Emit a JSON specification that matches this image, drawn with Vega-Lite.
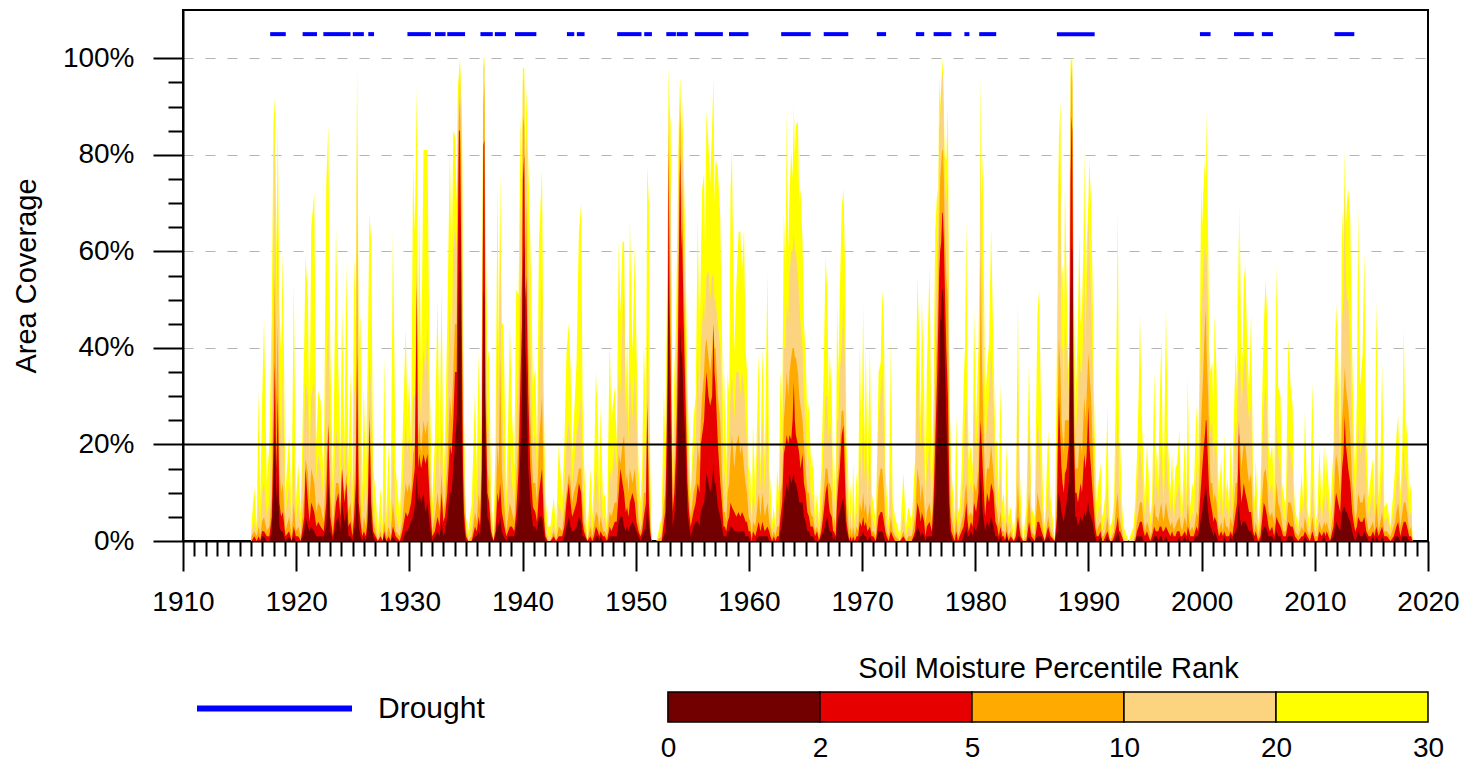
{
"$schema":"https://vega.github.io/schema/vega-lite/v6.json",
"background":"white",
"padding":{"left":11,"top":9,"right":5,"bottom":2},
"bounds":"flush",
"spacing":151,
"resolve":{"scale":{"color":"independent"}},
"config":{"view":{"stroke":null},"font":"Liberation Sans","axis":{"labelFont":"Liberation Sans","titleFont":"Liberation Sans","labelColor":"#000","titleColor":"#000"}},
"vconcat":[
{
"width":1245,"height":531,
"view":{"stroke":"#000","strokeWidth":2},
"data":{"values":[
{"t":1916.00,"a":0,"b":0,"c":0,"d":0,"e":0},
{"t":1916.07,"a":4,"b":2,"c":1,"d":0,"e":0},
{"t":1916.30,"a":11,"b":4,"c":2,"d":1,"e":0},
{"t":1916.51,"a":3,"b":2,"c":1,"d":0,"e":0},
{"t":1916.69,"a":31,"b":8,"c":3,"d":1,"e":0},
{"t":1916.83,"a":8,"b":3,"c":1,"d":0,"e":0},
{"t":1916.98,"a":28,"b":10,"c":4,"d":2,"e":1},
{"t":1917.16,"a":46,"b":12,"c":5,"d":2,"e":1},
{"t":1917.40,"a":12,"b":5,"c":2,"d":1,"e":0},
{"t":1917.63,"a":20,"b":8,"c":3,"d":1,"e":0},
{"t":1917.84,"a":47,"b":25,"c":10,"d":5,"e":2},
{"t":1917.99,"a":86,"b":60,"c":35,"d":20,"e":12},
{"t":1918.11,"a":92,"b":85,"c":55,"d":37,"e":22},
{"t":1918.25,"a":60,"b":45,"c":30,"d":15,"e":8},
{"t":1918.37,"a":87,"b":70,"c":45,"d":30,"e":15},
{"t":1918.52,"a":48,"b":30,"c":15,"d":8,"e":3},
{"t":1918.67,"a":39,"b":20,"c":10,"d":5,"e":2},
{"t":1918.82,"a":60,"b":35,"c":12,"d":6,"e":2},
{"t":1919.05,"a":10,"b":5,"c":2,"d":1,"e":0},
{"t":1919.38,"a":22,"b":12,"c":5,"d":2,"e":1},
{"t":1919.59,"a":6,"b":3,"c":1,"d":0,"e":0},
{"t":1919.79,"a":54,"b":20,"c":8,"d":3,"e":1},
{"t":1919.97,"a":8,"b":4,"c":2,"d":1,"e":0},
{"t":1920.18,"a":16,"b":8,"c":3,"d":1,"e":0},
{"t":1920.41,"a":6,"b":3,"c":1,"d":0,"e":0},
{"t":1920.71,"a":41,"b":25,"c":10,"d":5,"e":2},
{"t":1920.83,"a":59,"b":33,"c":17,"d":15,"e":5},
{"t":1921.04,"a":50,"b":30,"c":14,"d":8,"e":3},
{"t":1921.18,"a":22,"b":15,"c":8,"d":4,"e":2},
{"t":1921.33,"a":65,"b":30,"c":15,"d":8,"e":3},
{"t":1921.60,"a":72,"b":33,"c":12,"d":6,"e":2},
{"t":1921.78,"a":20,"b":12,"c":6,"d":3,"e":1},
{"t":1921.95,"a":31,"b":18,"c":8,"d":4,"e":1},
{"t":1922.16,"a":29,"b":15,"c":7,"d":3,"e":1},
{"t":1922.43,"a":12,"b":8,"c":4,"d":2,"e":1},
{"t":1922.66,"a":74,"b":35,"c":15,"d":8,"e":3},
{"t":1922.84,"a":86,"b":45,"c":25,"d":24,"e":12},
{"t":1923.02,"a":39,"b":22,"c":10,"d":5,"e":2},
{"t":1923.25,"a":12,"b":6,"c":3,"d":1,"e":0},
{"t":1923.52,"a":65,"b":23,"c":12,"d":8,"e":4},
{"t":1923.73,"a":35,"b":20,"c":12,"d":10,"e":5},
{"t":1923.91,"a":18,"b":12,"c":8,"d":5,"e":2},
{"t":1924.05,"a":49,"b":23,"c":15,"d":15,"e":8},
{"t":1924.26,"a":20,"b":14,"c":10,"d":8,"e":4},
{"t":1924.44,"a":58,"b":22,"c":14,"d":12,"e":6},
{"t":1924.62,"a":15,"b":10,"c":6,"d":3,"e":1},
{"t":1924.79,"a":35,"b":15,"c":8,"d":4,"e":1},
{"t":1924.97,"a":10,"b":6,"c":3,"d":1,"e":0},
{"t":1925.12,"a":59,"b":30,"c":10,"d":5,"e":2},
{"t":1925.27,"a":45,"b":35,"c":20,"d":12,"e":5},
{"t":1925.38,"a":99,"b":89,"c":66,"d":39,"e":14},
{"t":1925.53,"a":40,"b":30,"c":15,"d":8,"e":3},
{"t":1925.68,"a":47,"b":20,"c":8,"d":4,"e":1},
{"t":1925.83,"a":10,"b":5,"c":2,"d":1,"e":0},
{"t":1925.98,"a":32,"b":12,"c":5,"d":2,"e":1},
{"t":1926.15,"a":12,"b":6,"c":3,"d":1,"e":0},
{"t":1926.30,"a":35,"b":18,"c":8,"d":4,"e":2},
{"t":1926.48,"a":68,"b":39,"c":28,"d":25,"e":14},
{"t":1926.63,"a":62,"b":30,"c":15,"d":8,"e":4},
{"t":1926.80,"a":15,"b":8,"c":4,"d":2,"e":1},
{"t":1927.01,"a":10,"b":4,"c":2,"d":1,"e":0},
{"t":1927.22,"a":2,"b":1,"c":0,"d":0,"e":0},
{"t":1927.46,"a":11,"b":4,"c":2,"d":1,"e":0},
{"t":1927.63,"a":3,"b":1,"c":0,"d":0,"e":0},
{"t":1927.78,"a":38,"b":10,"c":4,"d":2,"e":1},
{"t":1927.96,"a":5,"b":2,"c":1,"d":0,"e":0},
{"t":1928.17,"a":20,"b":8,"c":3,"d":1,"e":0},
{"t":1928.34,"a":6,"b":3,"c":1,"d":0,"e":0},
{"t":1928.55,"a":64,"b":20,"c":8,"d":3,"e":1},
{"t":1928.79,"a":15,"b":6,"c":2,"d":1,"e":0},
{"t":1929.15,"a":5,"b":2,"c":1,"d":0,"e":0},
{"t":1929.38,"a":20,"b":10,"c":4,"d":2,"e":0},
{"t":1929.68,"a":44,"b":25,"c":12,"d":6,"e":2},
{"t":1929.83,"a":25,"b":18,"c":10,"d":5,"e":2},
{"t":1929.98,"a":34,"b":22,"c":12,"d":6,"e":3},
{"t":1930.15,"a":20,"b":15,"c":10,"d":8,"e":4},
{"t":1930.33,"a":78,"b":30,"c":18,"d":12,"e":5},
{"t":1930.48,"a":64,"b":30,"c":20,"d":15,"e":7},
{"t":1930.66,"a":94,"b":60,"c":55,"d":53,"e":14},
{"t":1930.77,"a":40,"b":28,"c":20,"d":15,"e":8},
{"t":1930.86,"a":69,"b":35,"c":25,"d":18,"e":10},
{"t":1931.04,"a":35,"b":25,"c":18,"d":15,"e":8},
{"t":1931.25,"a":81,"b":40,"c":25,"d":18,"e":10},
{"t":1931.42,"a":81,"b":35,"c":22,"d":16,"e":6},
{"t":1931.60,"a":81,"b":45,"c":25,"d":18,"e":8},
{"t":1931.81,"a":32,"b":20,"c":12,"d":8,"e":3},
{"t":1932.02,"a":8,"b":4,"c":2,"d":1,"e":0},
{"t":1932.25,"a":21,"b":10,"c":5,"d":2,"e":1},
{"t":1932.49,"a":50,"b":22,"c":10,"d":5,"e":2},
{"t":1932.67,"a":20,"b":12,"c":6,"d":3,"e":1},
{"t":1932.85,"a":53,"b":25,"c":14,"d":10,"e":4},
{"t":1933.00,"a":15,"b":10,"c":6,"d":4,"e":1},
{"t":1933.14,"a":20,"b":12,"c":8,"d":5,"e":2},
{"t":1933.35,"a":45,"b":25,"c":15,"d":10,"e":5},
{"t":1933.58,"a":81,"b":50,"c":30,"d":20,"e":10},
{"t":1933.73,"a":55,"b":40,"c":25,"d":18,"e":10},
{"t":1933.88,"a":85,"b":60,"c":35,"d":25,"e":15},
{"t":1934.03,"a":84,"b":65,"c":45,"d":35,"e":20},
{"t":1934.18,"a":70,"b":60,"c":45,"d":35,"e":25},
{"t":1934.27,"a":93,"b":85,"c":75,"d":60,"e":35},
{"t":1934.38,"a":97,"b":92,"c":88,"d":85,"e":55},
{"t":1934.47,"a":100,"b":98,"c":92,"d":85,"e":69},
{"t":1934.56,"a":95,"b":90,"c":80,"d":65,"e":45},
{"t":1934.65,"a":89,"b":80,"c":60,"d":40,"e":20},
{"t":1934.74,"a":50,"b":40,"c":25,"d":15,"e":8},
{"t":1934.83,"a":25,"b":18,"c":12,"d":6,"e":3},
{"t":1935.00,"a":5,"b":3,"c":2,"d":1,"e":0},
{"t":1935.21,"a":2,"b":1,"c":0,"d":0,"e":0},
{"t":1935.51,"a":8,"b":3,"c":1,"d":0,"e":0},
{"t":1935.80,"a":31,"b":12,"c":6,"d":3,"e":1},
{"t":1935.95,"a":15,"b":8,"c":4,"d":2,"e":1},
{"t":1936.13,"a":39,"b":18,"c":10,"d":5,"e":2},
{"t":1936.25,"a":20,"b":12,"c":6,"d":3,"e":1},
{"t":1936.40,"a":45,"b":30,"c":20,"d":15,"e":8},
{"t":1936.54,"a":100,"b":98,"c":90,"d":82,"e":52},
{"t":1936.63,"a":100,"b":99,"c":95,"d":83,"e":50},
{"t":1936.72,"a":70,"b":55,"c":40,"d":30,"e":18},
{"t":1936.90,"a":37,"b":25,"c":15,"d":10,"e":5},
{"t":1937.05,"a":40,"b":22,"c":12,"d":8,"e":4},
{"t":1937.22,"a":10,"b":6,"c":3,"d":2,"e":1},
{"t":1937.43,"a":1,"b":0,"c":0,"d":0,"e":0},
{"t":1937.61,"a":20,"b":10,"c":5,"d":2,"e":1},
{"t":1937.79,"a":74,"b":45,"c":20,"d":10,"e":4},
{"t":1937.90,"a":40,"b":30,"c":15,"d":8,"e":3},
{"t":1938.02,"a":76,"b":64,"c":38,"d":12,"e":5},
{"t":1938.17,"a":45,"b":30,"c":15,"d":6,"e":2},
{"t":1938.32,"a":45,"b":20,"c":10,"d":4,"e":1},
{"t":1938.56,"a":10,"b":5,"c":2,"d":1,"e":0},
{"t":1938.73,"a":25,"b":12,"c":5,"d":2,"e":1},
{"t":1938.88,"a":45,"b":20,"c":8,"d":3,"e":1},
{"t":1939.06,"a":27,"b":12,"c":6,"d":3,"e":1},
{"t":1939.27,"a":15,"b":8,"c":4,"d":2,"e":1},
{"t":1939.44,"a":52,"b":25,"c":12,"d":6,"e":3},
{"t":1939.65,"a":51,"b":35,"c":22,"d":15,"e":8},
{"t":1939.83,"a":88,"b":70,"c":50,"d":35,"e":20},
{"t":1939.95,"a":75,"b":65,"c":55,"d":45,"e":30},
{"t":1940.03,"a":98,"b":96,"c":88,"d":75,"e":55},
{"t":1940.15,"a":98,"b":95,"c":86,"d":80,"e":61},
{"t":1940.24,"a":80,"b":70,"c":60,"d":50,"e":40},
{"t":1940.33,"a":94,"b":85,"c":70,"d":55,"e":35},
{"t":1940.51,"a":78,"b":60,"c":40,"d":30,"e":15},
{"t":1940.69,"a":62,"b":40,"c":25,"d":15,"e":8},
{"t":1940.92,"a":32,"b":20,"c":12,"d":7,"e":3},
{"t":1941.13,"a":36,"b":22,"c":12,"d":6,"e":3},
{"t":1941.28,"a":20,"b":14,"c":8,"d":4,"e":2},
{"t":1941.45,"a":62,"b":35,"c":20,"d":10,"e":5},
{"t":1941.72,"a":77,"b":55,"c":30,"d":15,"e":5},
{"t":1941.87,"a":30,"b":20,"c":10,"d":5,"e":2},
{"t":1942.02,"a":10,"b":5,"c":2,"d":1,"e":0},
{"t":1942.22,"a":3,"b":1,"c":0,"d":0,"e":0},
{"t":1942.46,"a":3,"b":1,"c":0,"d":0,"e":0},
{"t":1942.76,"a":9,"b":4,"c":2,"d":1,"e":0},
{"t":1942.96,"a":2,"b":1,"c":0,"d":0,"e":0},
{"t":1943.20,"a":20,"b":8,"c":3,"d":1,"e":0},
{"t":1943.50,"a":9,"b":5,"c":2,"d":1,"e":0},
{"t":1943.70,"a":20,"b":12,"c":6,"d":3,"e":1},
{"t":1943.88,"a":39,"b":20,"c":10,"d":8,"e":3},
{"t":1944.09,"a":45,"b":25,"c":14,"d":12,"e":5},
{"t":1944.24,"a":36,"b":20,"c":12,"d":8,"e":3},
{"t":1944.38,"a":18,"b":12,"c":8,"d":5,"e":2},
{"t":1944.53,"a":25,"b":15,"c":10,"d":6,"e":2},
{"t":1944.77,"a":37,"b":22,"c":12,"d":8,"e":3},
{"t":1944.98,"a":64,"b":25,"c":15,"d":12,"e":5},
{"t":1945.18,"a":70,"b":30,"c":15,"d":10,"e":4},
{"t":1945.30,"a":30,"b":15,"c":8,"d":4,"e":1},
{"t":1945.42,"a":17,"b":8,"c":4,"d":2,"e":1},
{"t":1945.72,"a":0,"b":0,"c":0,"d":0,"e":0},
{"t":1946.01,"a":15,"b":6,"c":3,"d":1,"e":0},
{"t":1946.16,"a":5,"b":2,"c":1,"d":0,"e":0},
{"t":1946.31,"a":13,"b":6,"c":3,"d":1,"e":0},
{"t":1946.48,"a":35,"b":15,"c":6,"d":3,"e":1},
{"t":1946.66,"a":25,"b":12,"c":5,"d":2,"e":1},
{"t":1946.78,"a":8,"b":4,"c":2,"d":1,"e":0},
{"t":1946.89,"a":28,"b":12,"c":5,"d":2,"e":1},
{"t":1947.11,"a":8,"b":4,"c":2,"d":1,"e":0},
{"t":1947.26,"a":10,"b":5,"c":2,"d":1,"e":0},
{"t":1947.47,"a":3,"b":2,"c":1,"d":0,"e":0},
{"t":1947.70,"a":42,"b":15,"c":6,"d":3,"e":1},
{"t":1947.85,"a":25,"b":12,"c":5,"d":2,"e":1},
{"t":1948.15,"a":32,"b":20,"c":8,"d":4,"e":1},
{"t":1948.32,"a":20,"b":15,"c":8,"d":4,"e":1},
{"t":1948.50,"a":62,"b":35,"c":18,"d":10,"e":4},
{"t":1948.65,"a":47,"b":30,"c":16,"d":15,"e":5},
{"t":1948.83,"a":62,"b":45,"c":20,"d":12,"e":5},
{"t":1948.97,"a":62,"b":53,"c":22,"d":10,"e":3},
{"t":1949.12,"a":30,"b":25,"c":12,"d":6,"e":2},
{"t":1949.24,"a":43,"b":30,"c":14,"d":7,"e":3},
{"t":1949.36,"a":25,"b":20,"c":10,"d":5,"e":2},
{"t":1949.48,"a":67,"b":35,"c":15,"d":8,"e":3},
{"t":1949.71,"a":39,"b":25,"c":12,"d":10,"e":4},
{"t":1949.92,"a":61,"b":35,"c":15,"d":8,"e":3},
{"t":1950.07,"a":40,"b":25,"c":10,"d":4,"e":2},
{"t":1950.25,"a":15,"b":8,"c":4,"d":2,"e":1},
{"t":1950.42,"a":8,"b":4,"c":2,"d":1,"e":0},
{"t":1950.57,"a":15,"b":8,"c":4,"d":2,"e":1},
{"t":1950.72,"a":41,"b":20,"c":10,"d":5,"e":2},
{"t":1950.90,"a":25,"b":15,"c":10,"d":8,"e":3},
{"t":1951.02,"a":78,"b":45,"c":30,"d":28,"e":8},
{"t":1951.16,"a":70,"b":30,"c":15,"d":8,"e":3},
{"t":1951.28,"a":15,"b":8,"c":4,"d":2,"e":1},
{"t":1951.40,"a":0,"b":0,"c":0,"d":0,"e":0},
{"t":1951.84,"a":0,"b":0,"c":0,"d":0,"e":0},
{"t":1952.29,"a":5,"b":2,"c":1,"d":0,"e":0},
{"t":1952.49,"a":31,"b":15,"c":8,"d":4,"e":1},
{"t":1952.61,"a":20,"b":15,"c":10,"d":6,"e":2},
{"t":1952.73,"a":45,"b":30,"c":25,"d":20,"e":10},
{"t":1952.82,"a":70,"b":55,"c":45,"d":35,"e":20},
{"t":1952.91,"a":98,"b":90,"c":85,"d":81,"e":57},
{"t":1952.99,"a":90,"b":80,"c":65,"d":50,"e":30},
{"t":1953.09,"a":86,"b":70,"c":50,"d":35,"e":22},
{"t":1953.26,"a":15,"b":12,"c":8,"d":6,"e":3},
{"t":1953.41,"a":35,"b":25,"c":15,"d":10,"e":5},
{"t":1953.56,"a":45,"b":35,"c":25,"d":18,"e":10},
{"t":1953.68,"a":65,"b":55,"c":40,"d":30,"e":20},
{"t":1953.80,"a":86,"b":80,"c":65,"d":55,"e":35},
{"t":1953.89,"a":94,"b":90,"c":85,"d":75,"e":44},
{"t":1953.94,"a":96,"b":92,"c":89,"d":80,"e":44},
{"t":1954.03,"a":85,"b":80,"c":70,"d":60,"e":38},
{"t":1954.09,"a":92,"b":85,"c":75,"d":65,"e":40},
{"t":1954.24,"a":78,"b":70,"c":55,"d":45,"e":28},
{"t":1954.39,"a":61,"b":50,"c":40,"d":30,"e":20},
{"t":1954.57,"a":33,"b":25,"c":18,"d":12,"e":6},
{"t":1954.71,"a":20,"b":15,"c":10,"d":6,"e":3},
{"t":1954.86,"a":10,"b":8,"c":5,"d":3,"e":1},
{"t":1955.10,"a":25,"b":18,"c":10,"d":6,"e":3},
{"t":1955.30,"a":30,"b":20,"c":12,"d":8,"e":4},
{"t":1955.48,"a":67,"b":40,"c":20,"d":12,"e":4},
{"t":1955.63,"a":40,"b":28,"c":16,"d":10,"e":3},
{"t":1955.75,"a":57,"b":40,"c":25,"d":20,"e":6},
{"t":1955.87,"a":73,"b":45,"c":30,"d":22,"e":7},
{"t":1956.04,"a":76,"b":50,"c":35,"d":25,"e":8},
{"t":1956.13,"a":60,"b":45,"c":40,"d":30,"e":10},
{"t":1956.25,"a":89,"b":55,"c":42,"d":35,"e":14},
{"t":1956.43,"a":82,"b":56,"c":38,"d":30,"e":12},
{"t":1956.58,"a":74,"b":50,"c":35,"d":28,"e":10},
{"t":1956.75,"a":86,"b":55,"c":40,"d":30,"e":12},
{"t":1956.87,"a":96,"b":55,"c":45,"d":45,"e":16},
{"t":1956.96,"a":70,"b":50,"c":40,"d":35,"e":12},
{"t":1957.05,"a":79,"b":50,"c":40,"d":32,"e":12},
{"t":1957.26,"a":77,"b":45,"c":30,"d":20,"e":7},
{"t":1957.47,"a":67,"b":40,"c":25,"d":12,"e":5},
{"t":1957.61,"a":45,"b":30,"c":15,"d":8,"e":3},
{"t":1957.76,"a":20,"b":12,"c":6,"d":3,"e":1},
{"t":1957.88,"a":35,"b":15,"c":6,"d":3,"e":1},
{"t":1958.00,"a":15,"b":8,"c":4,"d":2,"e":1},
{"t":1958.12,"a":35,"b":20,"c":10,"d":4,"e":2},
{"t":1958.26,"a":30,"b":20,"c":12,"d":5,"e":2},
{"t":1958.38,"a":73,"b":30,"c":18,"d":8,"e":3},
{"t":1958.50,"a":81,"b":35,"c":22,"d":7,"e":3},
{"t":1958.71,"a":39,"b":25,"c":15,"d":6,"e":2},
{"t":1958.89,"a":53,"b":35,"c":20,"d":5,"e":2},
{"t":1959.09,"a":64,"b":35,"c":22,"d":6,"e":2},
{"t":1959.24,"a":64,"b":30,"c":18,"d":5,"e":2},
{"t":1959.39,"a":56,"b":35,"c":20,"d":6,"e":2},
{"t":1959.57,"a":65,"b":32,"c":15,"d":5,"e":2},
{"t":1959.71,"a":40,"b":25,"c":12,"d":4,"e":1},
{"t":1959.83,"a":35,"b":20,"c":10,"d":4,"e":1},
{"t":1959.98,"a":15,"b":10,"c":5,"d":2,"e":1},
{"t":1960.13,"a":14,"b":8,"c":4,"d":2,"e":0},
{"t":1960.25,"a":5,"b":3,"c":1,"d":0,"e":0},
{"t":1960.36,"a":24,"b":10,"c":4,"d":2,"e":0},
{"t":1960.57,"a":10,"b":6,"c":3,"d":1,"e":0},
{"t":1960.87,"a":39,"b":25,"c":10,"d":4,"e":1},
{"t":1961.02,"a":15,"b":10,"c":5,"d":2,"e":1},
{"t":1961.19,"a":40,"b":25,"c":10,"d":4,"e":1},
{"t":1961.40,"a":17,"b":10,"c":5,"d":2,"e":1},
{"t":1961.64,"a":56,"b":28,"c":8,"d":3,"e":1},
{"t":1961.79,"a":15,"b":8,"c":4,"d":2,"e":0},
{"t":1961.90,"a":12,"b":6,"c":3,"d":1,"e":0},
{"t":1962.05,"a":4,"b":2,"c":1,"d":0,"e":0},
{"t":1962.20,"a":7,"b":4,"c":2,"d":1,"e":0},
{"t":1962.35,"a":3,"b":2,"c":1,"d":0,"e":0},
{"t":1962.49,"a":15,"b":8,"c":3,"d":1,"e":0},
{"t":1962.64,"a":10,"b":6,"c":3,"d":1,"e":0},
{"t":1962.79,"a":35,"b":20,"c":10,"d":5,"e":2},
{"t":1962.94,"a":25,"b":18,"c":12,"d":8,"e":4},
{"t":1963.09,"a":68,"b":40,"c":25,"d":18,"e":8},
{"t":1963.23,"a":55,"b":40,"c":30,"d":20,"e":10},
{"t":1963.35,"a":89,"b":50,"c":35,"d":22,"e":12},
{"t":1963.47,"a":60,"b":45,"c":30,"d":20,"e":10},
{"t":1963.59,"a":72,"b":55,"c":35,"d":22,"e":14},
{"t":1963.74,"a":81,"b":60,"c":38,"d":21,"e":12},
{"t":1963.86,"a":75,"b":60,"c":40,"d":25,"e":13},
{"t":1963.97,"a":90,"b":64,"c":40,"d":33,"e":14},
{"t":1964.06,"a":80,"b":60,"c":38,"d":25,"e":12},
{"t":1964.15,"a":86,"b":60,"c":38,"d":22,"e":12},
{"t":1964.33,"a":87,"b":55,"c":35,"d":20,"e":10},
{"t":1964.45,"a":70,"b":50,"c":30,"d":18,"e":8},
{"t":1964.56,"a":73,"b":45,"c":28,"d":15,"e":8},
{"t":1964.74,"a":62,"b":40,"c":25,"d":18,"e":8},
{"t":1964.86,"a":45,"b":30,"c":20,"d":12,"e":5},
{"t":1965.01,"a":39,"b":25,"c":15,"d":10,"e":4},
{"t":1965.16,"a":25,"b":15,"c":10,"d":6,"e":2},
{"t":1965.31,"a":29,"b":18,"c":10,"d":5,"e":2},
{"t":1965.45,"a":18,"b":10,"c":6,"d":3,"e":1},
{"t":1965.60,"a":15,"b":8,"c":5,"d":3,"e":1},
{"t":1965.66,"a":18,"b":10,"c":5,"d":3,"e":1},
{"t":1965.84,"a":5,"b":3,"c":2,"d":1,"e":0},
{"t":1966.02,"a":10,"b":6,"c":3,"d":2,"e":0},
{"t":1966.19,"a":4,"b":2,"c":1,"d":0,"e":0},
{"t":1966.40,"a":15,"b":8,"c":4,"d":2,"e":1},
{"t":1966.61,"a":36,"b":20,"c":10,"d":6,"e":2},
{"t":1966.78,"a":59,"b":30,"c":15,"d":10,"e":4},
{"t":1966.93,"a":51,"b":30,"c":15,"d":12,"e":5},
{"t":1967.05,"a":30,"b":20,"c":12,"d":8,"e":3},
{"t":1967.14,"a":39,"b":25,"c":12,"d":6,"e":2},
{"t":1967.32,"a":30,"b":20,"c":10,"d":5,"e":2},
{"t":1967.44,"a":10,"b":6,"c":3,"d":2,"e":0},
{"t":1967.52,"a":17,"b":10,"c":5,"d":2,"e":1},
{"t":1967.67,"a":8,"b":5,"c":3,"d":1,"e":0},
{"t":1967.79,"a":49,"b":25,"c":12,"d":8,"e":3},
{"t":1967.91,"a":35,"b":25,"c":15,"d":12,"e":5},
{"t":1968.03,"a":51,"b":35,"c":20,"d":15,"e":6},
{"t":1968.20,"a":69,"b":40,"c":27,"d":22,"e":8},
{"t":1968.35,"a":73,"b":50,"c":27,"d":24,"e":9},
{"t":1968.50,"a":57,"b":35,"c":20,"d":12,"e":5},
{"t":1968.62,"a":20,"b":14,"c":8,"d":4,"e":2},
{"t":1968.74,"a":17,"b":10,"c":5,"d":2,"e":1},
{"t":1968.86,"a":5,"b":3,"c":1,"d":0,"e":0},
{"t":1968.97,"a":12,"b":6,"c":3,"d":1,"e":0},
{"t":1969.09,"a":3,"b":2,"c":1,"d":0,"e":0},
{"t":1969.21,"a":16,"b":8,"c":3,"d":1,"e":0},
{"t":1969.36,"a":4,"b":2,"c":1,"d":0,"e":0},
{"t":1969.51,"a":14,"b":6,"c":3,"d":1,"e":0},
{"t":1969.65,"a":8,"b":4,"c":2,"d":1,"e":0},
{"t":1969.80,"a":41,"b":20,"c":8,"d":4,"e":1},
{"t":1969.95,"a":20,"b":12,"c":6,"d":3,"e":1},
{"t":1970.10,"a":49,"b":25,"c":10,"d":5,"e":2},
{"t":1970.22,"a":20,"b":12,"c":6,"d":3,"e":1},
{"t":1970.33,"a":40,"b":22,"c":8,"d":4,"e":1},
{"t":1970.48,"a":15,"b":8,"c":4,"d":2,"e":0},
{"t":1970.69,"a":40,"b":20,"c":8,"d":3,"e":1},
{"t":1970.84,"a":10,"b":5,"c":2,"d":1,"e":0},
{"t":1970.99,"a":8,"b":4,"c":2,"d":1,"e":0},
{"t":1971.22,"a":4,"b":2,"c":1,"d":0,"e":0},
{"t":1971.46,"a":35,"b":25,"c":12,"d":5,"e":2},
{"t":1971.64,"a":37,"b":30,"c":15,"d":6,"e":2},
{"t":1971.78,"a":52,"b":35,"c":15,"d":6,"e":2},
{"t":1971.93,"a":45,"b":25,"c":10,"d":4,"e":1},
{"t":1972.05,"a":15,"b":8,"c":4,"d":2,"e":0},
{"t":1972.17,"a":10,"b":5,"c":2,"d":1,"e":0},
{"t":1972.35,"a":4,"b":2,"c":1,"d":0,"e":0},
{"t":1972.55,"a":42,"b":15,"c":5,"d":2,"e":0},
{"t":1972.70,"a":8,"b":4,"c":2,"d":1,"e":0},
{"t":1972.91,"a":5,"b":2,"c":1,"d":0,"e":0},
{"t":1973.35,"a":1,"b":0,"c":0,"d":0,"e":0},
{"t":1973.65,"a":14,"b":6,"c":2,"d":1,"e":0},
{"t":1973.88,"a":3,"b":1,"c":0,"d":0,"e":0},
{"t":1974.09,"a":7,"b":3,"c":1,"d":0,"e":0},
{"t":1974.39,"a":4,"b":2,"c":1,"d":0,"e":0},
{"t":1974.68,"a":17,"b":10,"c":5,"d":2,"e":1},
{"t":1974.89,"a":55,"b":39,"c":15,"d":8,"e":3},
{"t":1975.07,"a":39,"b":25,"c":12,"d":6,"e":2},
{"t":1975.19,"a":25,"b":18,"c":8,"d":4,"e":1},
{"t":1975.28,"a":50,"b":30,"c":12,"d":6,"e":2},
{"t":1975.48,"a":31,"b":18,"c":8,"d":4,"e":1},
{"t":1975.60,"a":10,"b":6,"c":3,"d":1,"e":0},
{"t":1975.72,"a":35,"b":15,"c":6,"d":3,"e":1},
{"t":1975.96,"a":57,"b":20,"c":8,"d":4,"e":1},
{"t":1976.16,"a":14,"b":8,"c":4,"d":2,"e":1},
{"t":1976.31,"a":30,"b":20,"c":12,"d":8,"e":4},
{"t":1976.46,"a":64,"b":45,"c":30,"d":20,"e":12},
{"t":1976.64,"a":73,"b":60,"c":45,"d":35,"e":25},
{"t":1976.73,"a":70,"b":65,"c":55,"d":45,"e":30},
{"t":1976.81,"a":96,"b":85,"c":65,"d":55,"e":38},
{"t":1976.90,"a":90,"b":88,"c":75,"d":60,"e":45},
{"t":1976.99,"a":95,"b":93,"c":78,"d":62,"e":48},
{"t":1977.08,"a":98,"b":96,"c":81,"d":68,"e":52},
{"t":1977.14,"a":100,"b":97,"c":81,"d":68,"e":52},
{"t":1977.23,"a":90,"b":85,"c":75,"d":62,"e":48},
{"t":1977.29,"a":80,"b":75,"c":65,"d":55,"e":40},
{"t":1977.44,"a":79,"b":70,"c":55,"d":40,"e":25},
{"t":1977.58,"a":90,"b":75,"c":50,"d":30,"e":15},
{"t":1977.73,"a":30,"b":25,"c":15,"d":8,"e":3},
{"t":1977.88,"a":15,"b":10,"c":5,"d":2,"e":1},
{"t":1978.03,"a":10,"b":6,"c":3,"d":1,"e":0},
{"t":1978.17,"a":5,"b":3,"c":1,"d":0,"e":0},
{"t":1978.32,"a":26,"b":12,"c":5,"d":2,"e":0},
{"t":1978.47,"a":6,"b":3,"c":1,"d":0,"e":0},
{"t":1978.62,"a":7,"b":4,"c":2,"d":1,"e":0},
{"t":1978.80,"a":15,"b":8,"c":4,"d":2,"e":0},
{"t":1978.97,"a":32,"b":15,"c":6,"d":3,"e":1},
{"t":1979.09,"a":40,"b":25,"c":10,"d":5,"e":2},
{"t":1979.21,"a":66,"b":30,"c":12,"d":8,"e":3},
{"t":1979.33,"a":30,"b":18,"c":8,"d":4,"e":1},
{"t":1979.42,"a":17,"b":10,"c":5,"d":2,"e":1},
{"t":1979.62,"a":20,"b":12,"c":6,"d":4,"e":2},
{"t":1979.77,"a":15,"b":10,"c":5,"d":3,"e":1},
{"t":1979.89,"a":48,"b":30,"c":12,"d":8,"e":3},
{"t":1980.07,"a":25,"b":18,"c":10,"d":6,"e":2},
{"t":1980.28,"a":40,"b":25,"c":15,"d":10,"e":4},
{"t":1980.39,"a":60,"b":45,"c":30,"d":20,"e":8},
{"t":1980.48,"a":96,"b":81,"c":59,"d":25,"e":14},
{"t":1980.57,"a":70,"b":60,"c":40,"d":20,"e":10},
{"t":1980.66,"a":81,"b":45,"c":30,"d":15,"e":6},
{"t":1980.87,"a":28,"b":18,"c":10,"d":5,"e":2},
{"t":1981.04,"a":36,"b":25,"c":15,"d":10,"e":4},
{"t":1981.22,"a":41,"b":30,"c":15,"d":8,"e":3},
{"t":1981.40,"a":65,"b":40,"c":20,"d":12,"e":5},
{"t":1981.61,"a":39,"b":28,"c":14,"d":10,"e":3},
{"t":1981.78,"a":20,"b":14,"c":8,"d":4,"e":1},
{"t":1981.93,"a":21,"b":12,"c":6,"d":3,"e":1},
{"t":1982.08,"a":10,"b":6,"c":3,"d":1,"e":0},
{"t":1982.23,"a":33,"b":15,"c":6,"d":3,"e":1},
{"t":1982.38,"a":8,"b":4,"c":2,"d":1,"e":0},
{"t":1982.52,"a":10,"b":5,"c":2,"d":1,"e":0},
{"t":1982.64,"a":4,"b":2,"c":1,"d":0,"e":0},
{"t":1982.76,"a":20,"b":10,"c":4,"d":2,"e":1},
{"t":1982.94,"a":5,"b":3,"c":1,"d":0,"e":0},
{"t":1983.12,"a":7,"b":4,"c":2,"d":1,"e":0},
{"t":1983.41,"a":1,"b":0,"c":0,"d":0,"e":0},
{"t":1983.59,"a":8,"b":4,"c":2,"d":1,"e":0},
{"t":1983.77,"a":49,"b":35,"c":12,"d":5,"e":1},
{"t":1983.88,"a":20,"b":12,"c":6,"d":3,"e":1},
{"t":1984.00,"a":10,"b":5,"c":2,"d":1,"e":0},
{"t":1984.22,"a":0,"b":0,"c":0,"d":0,"e":0},
{"t":1984.52,"a":7,"b":3,"c":1,"d":0,"e":0},
{"t":1984.75,"a":37,"b":26,"c":10,"d":4,"e":1},
{"t":1984.96,"a":7,"b":4,"c":2,"d":1,"e":0},
{"t":1985.26,"a":5,"b":2,"c":1,"d":0,"e":0},
{"t":1985.49,"a":47,"b":25,"c":10,"d":4,"e":1},
{"t":1985.64,"a":52,"b":22,"c":8,"d":4,"e":1},
{"t":1985.85,"a":22,"b":10,"c":5,"d":2,"e":1},
{"t":1986.00,"a":8,"b":4,"c":2,"d":1,"e":0},
{"t":1986.14,"a":3,"b":1,"c":0,"d":0,"e":0},
{"t":1986.44,"a":23,"b":12,"c":5,"d":3,"e":1},
{"t":1986.65,"a":9,"b":5,"c":2,"d":1,"e":0},
{"t":1987.03,"a":0,"b":0,"c":0,"d":0,"e":0},
{"t":1987.21,"a":40,"b":20,"c":10,"d":5,"e":2},
{"t":1987.30,"a":65,"b":45,"c":30,"d":20,"e":8},
{"t":1987.39,"a":83,"b":80,"c":42,"d":30,"e":10},
{"t":1987.53,"a":91,"b":70,"c":35,"d":20,"e":8},
{"t":1987.62,"a":55,"b":40,"c":25,"d":15,"e":6},
{"t":1987.71,"a":57,"b":40,"c":22,"d":12,"e":5},
{"t":1987.83,"a":40,"b":30,"c":18,"d":10,"e":4},
{"t":1987.92,"a":73,"b":45,"c":25,"d":14,"e":6},
{"t":1988.07,"a":54,"b":40,"c":25,"d":15,"e":8},
{"t":1988.18,"a":40,"b":35,"c":25,"d":18,"e":10},
{"t":1988.27,"a":35,"b":30,"c":25,"d":20,"e":12},
{"t":1988.36,"a":80,"b":75,"c":60,"d":45,"e":25},
{"t":1988.42,"a":99,"b":95,"c":85,"d":75,"e":50},
{"t":1988.51,"a":100,"b":99,"c":98,"d":88,"e":61},
{"t":1988.57,"a":100,"b":98,"c":95,"d":85,"e":60},
{"t":1988.66,"a":75,"b":65,"c":50,"d":40,"e":25},
{"t":1988.72,"a":51,"b":40,"c":30,"d":22,"e":15},
{"t":1988.84,"a":30,"b":22,"c":15,"d":10,"e":5},
{"t":1988.95,"a":35,"b":25,"c":15,"d":10,"e":5},
{"t":1989.07,"a":45,"b":30,"c":15,"d":8,"e":3},
{"t":1989.19,"a":64,"b":40,"c":20,"d":10,"e":4},
{"t":1989.31,"a":45,"b":35,"c":20,"d":12,"e":5},
{"t":1989.43,"a":49,"b":35,"c":18,"d":10,"e":4},
{"t":1989.55,"a":60,"b":45,"c":25,"d":15,"e":5},
{"t":1989.63,"a":81,"b":55,"c":30,"d":18,"e":6},
{"t":1989.75,"a":50,"b":40,"c":25,"d":15,"e":5},
{"t":1989.84,"a":61,"b":50,"c":30,"d":18,"e":6},
{"t":1989.99,"a":70,"b":67,"c":39,"d":28,"e":8},
{"t":1990.08,"a":79,"b":60,"c":35,"d":20,"e":6},
{"t":1990.23,"a":70,"b":50,"c":30,"d":15,"e":5},
{"t":1990.37,"a":53,"b":35,"c":20,"d":10,"e":4},
{"t":1990.49,"a":30,"b":20,"c":12,"d":6,"e":2},
{"t":1990.58,"a":20,"b":12,"c":6,"d":3,"e":1},
{"t":1990.73,"a":8,"b":4,"c":2,"d":1,"e":0},
{"t":1990.88,"a":12,"b":6,"c":3,"d":1,"e":0},
{"t":1991.08,"a":16,"b":8,"c":4,"d":2,"e":1},
{"t":1991.20,"a":5,"b":2,"c":1,"d":0,"e":0},
{"t":1991.32,"a":6,"b":3,"c":1,"d":0,"e":0},
{"t":1991.50,"a":10,"b":5,"c":2,"d":1,"e":0},
{"t":1991.68,"a":28,"b":12,"c":5,"d":2,"e":1},
{"t":1991.79,"a":8,"b":4,"c":2,"d":1,"e":0},
{"t":1991.91,"a":3,"b":1,"c":0,"d":0,"e":0},
{"t":1992.09,"a":4,"b":2,"c":1,"d":0,"e":0},
{"t":1992.27,"a":9,"b":5,"c":2,"d":1,"e":0},
{"t":1992.47,"a":39,"b":20,"c":8,"d":3,"e":1},
{"t":1992.59,"a":69,"b":28,"c":10,"d":5,"e":2},
{"t":1992.71,"a":20,"b":12,"c":5,"d":2,"e":1},
{"t":1992.80,"a":21,"b":10,"c":4,"d":2,"e":0},
{"t":1992.95,"a":8,"b":4,"c":2,"d":1,"e":0},
{"t":1993.10,"a":3,"b":1,"c":0,"d":0,"e":0},
{"t":1993.54,"a":0,"b":0,"c":0,"d":0,"e":0},
{"t":1993.98,"a":3,"b":1,"c":0,"d":0,"e":0},
{"t":1994.13,"a":8,"b":4,"c":1,"d":0,"e":0},
{"t":1994.28,"a":17,"b":10,"c":4,"d":2,"e":1},
{"t":1994.43,"a":30,"b":15,"c":6,"d":3,"e":1},
{"t":1994.55,"a":47,"b":20,"c":8,"d":4,"e":1},
{"t":1994.72,"a":25,"b":15,"c":8,"d":4,"e":1},
{"t":1994.87,"a":15,"b":8,"c":4,"d":2,"e":0},
{"t":1994.99,"a":9,"b":5,"c":2,"d":1,"e":0},
{"t":1995.17,"a":20,"b":10,"c":4,"d":2,"e":0},
{"t":1995.31,"a":14,"b":8,"c":3,"d":1,"e":0},
{"t":1995.46,"a":5,"b":3,"c":1,"d":0,"e":0},
{"t":1995.61,"a":8,"b":4,"c":2,"d":1,"e":0},
{"t":1995.82,"a":35,"b":18,"c":8,"d":3,"e":1},
{"t":1995.94,"a":15,"b":10,"c":5,"d":2,"e":1},
{"t":1996.05,"a":19,"b":12,"c":5,"d":2,"e":1},
{"t":1996.17,"a":12,"b":8,"c":4,"d":2,"e":0},
{"t":1996.29,"a":28,"b":15,"c":6,"d":3,"e":1},
{"t":1996.44,"a":42,"b":20,"c":8,"d":3,"e":1},
{"t":1996.56,"a":20,"b":12,"c":5,"d":2,"e":0},
{"t":1996.65,"a":12,"b":8,"c":4,"d":2,"e":0},
{"t":1996.85,"a":48,"b":20,"c":8,"d":3,"e":1},
{"t":1997.03,"a":20,"b":12,"c":5,"d":2,"e":0},
{"t":1997.24,"a":10,"b":6,"c":3,"d":1,"e":0},
{"t":1997.39,"a":18,"b":10,"c":4,"d":2,"e":0},
{"t":1997.53,"a":7,"b":4,"c":2,"d":1,"e":0},
{"t":1997.68,"a":15,"b":8,"c":3,"d":1,"e":0},
{"t":1997.83,"a":16,"b":10,"c":4,"d":2,"e":0},
{"t":1998.04,"a":23,"b":12,"c":5,"d":2,"e":1},
{"t":1998.15,"a":10,"b":6,"c":3,"d":1,"e":0},
{"t":1998.27,"a":7,"b":4,"c":2,"d":1,"e":0},
{"t":1998.51,"a":21,"b":12,"c":5,"d":2,"e":1},
{"t":1998.66,"a":10,"b":6,"c":3,"d":1,"e":0},
{"t":1998.78,"a":34,"b":18,"c":8,"d":3,"e":1},
{"t":1998.89,"a":15,"b":8,"c":4,"d":2,"e":0},
{"t":1999.01,"a":7,"b":4,"c":2,"d":1,"e":0},
{"t":1999.16,"a":12,"b":6,"c":3,"d":1,"e":0},
{"t":1999.31,"a":10,"b":5,"c":2,"d":1,"e":0},
{"t":1999.43,"a":20,"b":10,"c":4,"d":2,"e":1},
{"t":1999.55,"a":28,"b":15,"c":6,"d":3,"e":1},
{"t":1999.69,"a":15,"b":10,"c":5,"d":2,"e":1},
{"t":1999.84,"a":42,"b":30,"c":15,"d":8,"e":3},
{"t":1999.96,"a":74,"b":45,"c":25,"d":12,"e":5},
{"t":2000.05,"a":65,"b":50,"c":30,"d":15,"e":6},
{"t":2000.14,"a":72,"b":55,"c":35,"d":18,"e":8},
{"t":2000.29,"a":79,"b":62,"c":45,"d":22,"e":10},
{"t":2000.37,"a":70,"b":58,"c":48,"d":25,"e":12},
{"t":2000.43,"a":89,"b":60,"c":40,"d":25,"e":10},
{"t":2000.58,"a":62,"b":45,"c":30,"d":15,"e":6},
{"t":2000.67,"a":40,"b":30,"c":20,"d":10,"e":4},
{"t":2000.79,"a":35,"b":22,"c":12,"d":8,"e":3},
{"t":2000.94,"a":37,"b":25,"c":12,"d":6,"e":2},
{"t":2001.05,"a":25,"b":15,"c":8,"d":4,"e":1},
{"t":2001.14,"a":47,"b":20,"c":10,"d":5,"e":2},
{"t":2001.32,"a":35,"b":18,"c":8,"d":4,"e":1},
{"t":2001.44,"a":15,"b":8,"c":4,"d":2,"e":0},
{"t":2001.53,"a":10,"b":5,"c":2,"d":1,"e":0},
{"t":2001.73,"a":17,"b":10,"c":4,"d":2,"e":0},
{"t":2001.88,"a":8,"b":4,"c":2,"d":1,"e":0},
{"t":2002.00,"a":22,"b":12,"c":5,"d":2,"e":1},
{"t":2002.15,"a":10,"b":6,"c":3,"d":1,"e":0},
{"t":2002.27,"a":13,"b":8,"c":3,"d":1,"e":0},
{"t":2002.42,"a":8,"b":4,"c":2,"d":1,"e":0},
{"t":2002.56,"a":21,"b":12,"c":5,"d":2,"e":1},
{"t":2002.71,"a":10,"b":6,"c":3,"d":1,"e":0},
{"t":2002.77,"a":18,"b":10,"c":5,"d":2,"e":1},
{"t":2003.01,"a":40,"b":25,"c":12,"d":6,"e":2},
{"t":2003.13,"a":30,"b":22,"c":12,"d":8,"e":3},
{"t":2003.21,"a":65,"b":35,"c":20,"d":14,"e":6},
{"t":2003.30,"a":50,"b":35,"c":22,"d":25,"e":8},
{"t":2003.36,"a":70,"b":40,"c":22,"d":15,"e":5},
{"t":2003.51,"a":36,"b":28,"c":15,"d":8,"e":3},
{"t":2003.63,"a":40,"b":32,"c":18,"d":10,"e":4},
{"t":2003.72,"a":54,"b":36,"c":20,"d":12,"e":4},
{"t":2003.86,"a":57,"b":39,"c":20,"d":10,"e":4},
{"t":2004.04,"a":39,"b":30,"c":15,"d":8,"e":3},
{"t":2004.19,"a":32,"b":25,"c":12,"d":6,"e":2},
{"t":2004.37,"a":47,"b":28,"c":14,"d":6,"e":2},
{"t":2004.54,"a":14,"b":10,"c":5,"d":2,"e":1},
{"t":2004.66,"a":8,"b":5,"c":2,"d":1,"e":0},
{"t":2004.78,"a":17,"b":10,"c":4,"d":2,"e":0},
{"t":2004.99,"a":3,"b":2,"c":1,"d":0,"e":0},
{"t":2005.20,"a":10,"b":6,"c":3,"d":1,"e":0},
{"t":2005.37,"a":32,"b":20,"c":10,"d":5,"e":2},
{"t":2005.49,"a":44,"b":28,"c":14,"d":8,"e":3},
{"t":2005.64,"a":54,"b":32,"c":15,"d":7,"e":3},
{"t":2005.79,"a":47,"b":25,"c":12,"d":5,"e":2},
{"t":2005.91,"a":20,"b":12,"c":6,"d":3,"e":1},
{"t":2006.02,"a":17,"b":10,"c":5,"d":2,"e":1},
{"t":2006.23,"a":20,"b":12,"c":6,"d":3,"e":1},
{"t":2006.41,"a":10,"b":6,"c":3,"d":1,"e":0},
{"t":2006.62,"a":57,"b":25,"c":12,"d":5,"e":2},
{"t":2006.76,"a":32,"b":18,"c":8,"d":4,"e":1},
{"t":2006.97,"a":30,"b":15,"c":6,"d":3,"e":1},
{"t":2007.09,"a":12,"b":8,"c":4,"d":2,"e":0},
{"t":2007.21,"a":10,"b":5,"c":2,"d":1,"e":0},
{"t":2007.44,"a":7,"b":4,"c":2,"d":1,"e":0},
{"t":2007.65,"a":42,"b":20,"c":8,"d":4,"e":1},
{"t":2007.86,"a":32,"b":18,"c":8,"d":3,"e":1},
{"t":2008.04,"a":28,"b":15,"c":6,"d":3,"e":1},
{"t":2008.15,"a":12,"b":8,"c":4,"d":2,"e":0},
{"t":2008.24,"a":7,"b":4,"c":2,"d":1,"e":0},
{"t":2008.54,"a":3,"b":2,"c":1,"d":0,"e":0},
{"t":2008.84,"a":14,"b":8,"c":3,"d":1,"e":0},
{"t":2008.98,"a":8,"b":5,"c":2,"d":1,"e":0},
{"t":2009.13,"a":27,"b":12,"c":5,"d":2,"e":1},
{"t":2009.34,"a":7,"b":4,"c":2,"d":1,"e":0},
{"t":2009.57,"a":3,"b":2,"c":1,"d":0,"e":0},
{"t":2009.78,"a":33,"b":12,"c":5,"d":2,"e":0},
{"t":2010.02,"a":3,"b":2,"c":1,"d":0,"e":0},
{"t":2010.23,"a":6,"b":3,"c":1,"d":0,"e":0},
{"t":2010.40,"a":19,"b":10,"c":4,"d":2,"e":0},
{"t":2010.61,"a":7,"b":4,"c":2,"d":1,"e":0},
{"t":2010.82,"a":20,"b":10,"c":4,"d":2,"e":1},
{"t":2010.94,"a":10,"b":6,"c":3,"d":1,"e":0},
{"t":2011.05,"a":18,"b":10,"c":4,"d":2,"e":0},
{"t":2011.35,"a":6,"b":3,"c":1,"d":0,"e":0},
{"t":2011.65,"a":19,"b":12,"c":6,"d":3,"e":1},
{"t":2011.79,"a":40,"b":30,"c":15,"d":8,"e":3},
{"t":2011.88,"a":49,"b":35,"c":18,"d":10,"e":4},
{"t":2012.06,"a":39,"b":30,"c":15,"d":8,"e":3},
{"t":2012.24,"a":20,"b":15,"c":10,"d":6,"e":2},
{"t":2012.41,"a":69,"b":45,"c":25,"d":15,"e":6},
{"t":2012.53,"a":60,"b":50,"c":30,"d":18,"e":7},
{"t":2012.65,"a":81,"b":74,"c":36,"d":26,"e":7},
{"t":2012.74,"a":65,"b":55,"c":32,"d":20,"e":6},
{"t":2012.83,"a":70,"b":50,"c":30,"d":18,"e":6},
{"t":2012.95,"a":73,"b":50,"c":28,"d":15,"e":5},
{"t":2013.13,"a":67,"b":40,"c":22,"d":12,"e":4},
{"t":2013.30,"a":39,"b":25,"c":12,"d":6,"e":2},
{"t":2013.42,"a":25,"b":15,"c":8,"d":4,"e":1},
{"t":2013.57,"a":14,"b":8,"c":4,"d":2,"e":0},
{"t":2013.72,"a":30,"b":15,"c":6,"d":3,"e":1},
{"t":2013.83,"a":69,"b":25,"c":10,"d":5,"e":2},
{"t":2014.01,"a":32,"b":18,"c":8,"d":4,"e":1},
{"t":2014.22,"a":39,"b":20,"c":8,"d":4,"e":1},
{"t":2014.37,"a":60,"b":25,"c":10,"d":5,"e":2},
{"t":2014.55,"a":21,"b":12,"c":5,"d":2,"e":1},
{"t":2014.75,"a":9,"b":5,"c":2,"d":1,"e":0},
{"t":2014.96,"a":14,"b":8,"c":3,"d":1,"e":0},
{"t":2015.14,"a":17,"b":10,"c":4,"d":2,"e":1},
{"t":2015.28,"a":8,"b":5,"c":2,"d":1,"e":0},
{"t":2015.43,"a":50,"b":20,"c":8,"d":3,"e":1},
{"t":2015.64,"a":9,"b":5,"c":2,"d":1,"e":0},
{"t":2015.79,"a":15,"b":8,"c":4,"d":2,"e":0},
{"t":2015.94,"a":37,"b":15,"c":6,"d":3,"e":1},
{"t":2016.14,"a":7,"b":4,"c":2,"d":1,"e":0},
{"t":2016.38,"a":8,"b":5,"c":2,"d":1,"e":0},
{"t":2016.68,"a":3,"b":2,"c":1,"d":0,"e":0},
{"t":2016.97,"a":11,"b":6,"c":3,"d":1,"e":0},
{"t":2017.09,"a":15,"b":8,"c":4,"d":2,"e":1},
{"t":2017.21,"a":22,"b":12,"c":6,"d":3,"e":1},
{"t":2017.36,"a":26,"b":15,"c":8,"d":4,"e":1},
{"t":2017.56,"a":10,"b":6,"c":3,"d":1,"e":0},
{"t":2017.74,"a":20,"b":12,"c":6,"d":3,"e":1},
{"t":2017.86,"a":44,"b":20,"c":8,"d":4,"e":1},
{"t":2018.01,"a":20,"b":14,"c":8,"d":4,"e":1},
{"t":2018.15,"a":25,"b":12,"c":6,"d":3,"e":1},
{"t":2018.33,"a":9,"b":5,"c":2,"d":1,"e":0},
{"t":2018.51,"a":12,"b":6,"c":3,"d":1,"e":0},
{"t":2018.63,"a":0,"b":0,"c":0,"d":0,"e":0}
]},
"layer":[
{"mark":{"type":"area","color":"#ffff00"},
 "encoding":{
  "x":{"field":"t","type":"quantitative","title":null,
   "scale":{"domain":[1910,2020],"nice":false,"zero":false},
   "axis":{"values":[1910,1911,1912,1913,1914,1915,1916,1917,1918,1919,1920,1921,1922,1923,1924,1925,1926,1927,1928,1929,1930,1931,1932,1933,1934,1935,1936,1937,1938,1939,1940,1941,1942,1943,1944,1945,1946,1947,1948,1949,1950,1951,1952,1953,1954,1955,1956,1957,1958,1959,1960,1961,1962,1963,1964,1965,1966,1967,1968,1969,1970,1971,1972,1973,1974,1975,1976,1977,1978,1979,1980,1981,1982,1983,1984,1985,1986,1987,1988,1989,1990,1991,1992,1993,1994,1995,1996,1997,1998,1999,2000,2001,2002,2003,2004,2005,2006,2007,2008,2009,2010,2011,2012,2013,2014,2015,2016,2017,2018,2019,2020],
    "tickCount":500,
    "labelExpr":"datum.value % 10 === 0 ? '' + datum.value : ''",
    "tickSize":{"condition":{"test":"datum.value % 10 === 0","value":30},"value":15},
    "tickWidth":2,"tickColor":"#000","domainColor":"#000","domainWidth":2,
    "labelFontSize":28,"labelPadding":17,"labelOverlap":false,"labelFlush":false,"labelBound":false,"grid":false}},
  "y":{"field":"a","type":"quantitative","title":"Area Coverage",
   "scale":{"domain":[0,110],"nice":false,"zero":true},
   "axis":{"values":[0,5,10,15,20,25,30,35,40,45,50,55,60,65,70,75,80,85,90,95,100],
    "tickCount":500,
    "labelExpr":"datum.value % 20 === 0 ? datum.value + '%' : ''",
    "tickSize":{"condition":{"test":"datum.value % 20 === 0","value":30},"value":15},
    "tickWidth":2,"tickColor":"#000","domainColor":"#000","domainWidth":2,
    "grid":true,"gridDash":[10,12],"gridColor":"#b4b4b4","gridWidth":1.2,
    "gridOpacity":{"condition":{"test":"datum.value % 20 === 0 && datum.value > 0","value":1},"value":0},
    "labelFontSize":28,"labelPadding":19,"labelOverlap":false,
    "titleFontSize":29,"titleFontWeight":"normal","titlePadding":21}}}},
{"mark":{"type":"area","color":"#fcd37f"},"encoding":{"x":{"field":"t","type":"quantitative"},"y":{"field":"b","type":"quantitative"}}},
{"mark":{"type":"area","color":"#ffaa00"},"encoding":{"x":{"field":"t","type":"quantitative"},"y":{"field":"c","type":"quantitative"}}},
{"mark":{"type":"area","color":"#e60000"},"encoding":{"x":{"field":"t","type":"quantitative"},"y":{"field":"d","type":"quantitative"}}},
{"mark":{"type":"area","color":"#730000"},"encoding":{"x":{"field":"t","type":"quantitative"},"y":{"field":"e","type":"quantitative"}}},
{"data":{"values":[{"v":20}]},"mark":{"type":"rule","color":"#000","strokeWidth":2},"encoding":{"y":{"field":"v","type":"quantitative"}}},
{"data":{"values":[
{"s":1917.70,"f":1919.08},{"s":1920.57,"f":1921.84},{"s":1922.40,"f":1924.80},{"s":1925.00,"f":1925.98},{"s":1926.37,"f":1926.88},
{"s":1929.83,"f":1931.90},{"s":1932.26,"f":1933.20},{"s":1933.35,"f":1934.92},{"s":1936.28,"f":1937.37},{"s":1937.55,"f":1938.53},{"s":1939.33,"f":1941.22},{"s":1943.92,"f":1944.57},{"s":1944.80,"f":1945.48},
{"s":1948.36,"f":1950.51},{"s":1950.75,"f":1951.43},{"s":1952.70,"f":1953.55},{"s":1953.62,"f":1954.60},{"s":1955.22,"f":1957.70},{"s":1958.24,"f":1959.96},{"s":1962.85,"f":1965.46},
{"s":1966.61,"f":1968.78},{"s":1971.30,"f":1972.12},{"s":1974.75,"f":1975.49},{"s":1976.32,"f":1977.89},{"s":1979.04,"f":1979.48},{"s":1980.35,"f":1981.85},
{"s":1987.21,"f":1990.55},{"s":1999.85,"f":2000.79},{"s":2002.86,"f":2004.61},{"s":2005.32,"f":2006.30},{"s":2011.74,"f":2013.49}
]},
 "mark":{"type":"rule","strokeWidth":4},
 "encoding":{
  "x":{"field":"s","type":"quantitative"},
  "x2":{"field":"f"},
  "y":{"datum":105},
  "color":{"datum":"Drought","type":"nominal","scale":{"domain":["Drought"],"range":["#0000ff"]},
   "legend":{"orient":"none","legendX":11,"legendY":618,"title":null,"symbolType":"stroke","symbolSize":24025,"symbolStrokeWidth":6,"labelFontSize":30,"labelOffset":23,"labelFont":"Liberation Sans","labelColor":"#000"}}}}
]
},
{
"width":1245,"height":30,
"title":{"text":"Soil Moisture Percentile Rank","fontSize":29,"font":"Liberation Sans","fontWeight":"normal","anchor":"middle","dx":243,"offset":7,"color":"#000"},
"data":{"values":[{"i":0,"j":1,"k":"0-2"},{"i":1,"j":2,"k":"2-5"},{"i":2,"j":3,"k":"5-10"},{"i":3,"j":4,"k":"10-20"},{"i":4,"j":5,"k":"20-30"}]},
"mark":{"type":"rect","stroke":"#000","strokeWidth":1.5},
"encoding":{
 "x":{"field":"i","type":"quantitative","title":null,"scale":{"domain":[-3.19,5],"nice":false,"zero":false},
  "axis":{"values":[0,1,2,3,4,5],"tickCount":50,"labelExpr":"['0','2','5','10','20','30'][datum.value]","ticks":false,"domain":false,"grid":false,"labelFontSize":28,"labelFont":"Liberation Sans","labelPadding":12,"labelOverlap":false,"labelFlush":false}},
 "x2":{"field":"j"},
 "color":{"field":"k","type":"nominal","scale":{"domain":["0-2","2-5","5-10","10-20","20-30"],"range":["#730000","#e60000","#ffaa00","#fcd37f","#ffff00"]},"legend":null}
}
}
]
}
